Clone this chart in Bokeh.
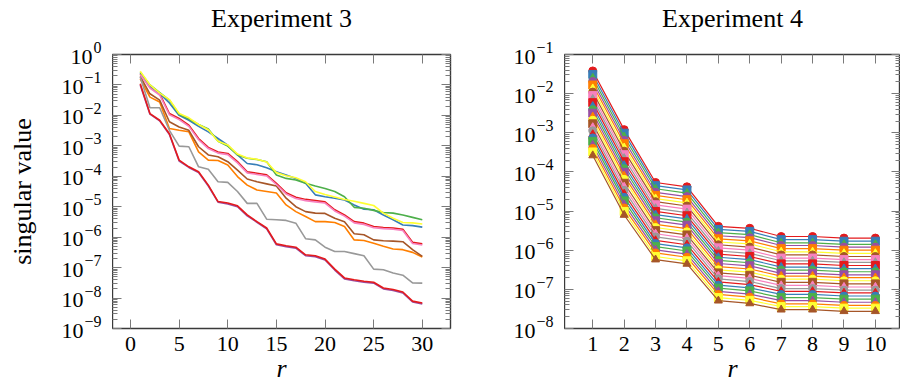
import math
from bokeh.plotting import figure
from bokeh.layouts import row
from bokeh.models import FixedTicker, LinearAxis, LogAxis, CustomJSTickFormatter
from bokeh.core.properties import value
from bokeh.embed import file_html
from bokeh.resources import INLINE

FONT = "Liberation Serif"
SET1 = ["#e41a1c", "#377eb8", "#4daf4a", "#984ea3", "#ff7f00",
        "#ffff33", "#a65628", "#f781bf", "#999999"]

# ---------------- Experiment 3 (log10 of singular values), r = 1..30 ----------------
exp3_r = list(range(1, 31))
exp3_red_a = [-0.63, -1.07, -1.29, -1.94, -2.10, -2.32, -2.76, -3.05, -3.20, -3.25,
              -3.52, -3.85, -3.90, -3.95, -4.23, -4.54, -4.69, -4.76, -4.80, -4.84,
              -5.10, -5.27, -5.49, -5.54, -5.65, -5.68, -5.70, -5.74, -6.17, -6.22]
exp3_blue = [-0.60, -1.05, -1.29, -1.59, -2.00, -2.16, -2.36, -2.54, -2.76, -2.98,
             -3.30, -3.58, -3.62, -3.72, -3.85, -3.96, -4.07, -4.23, -4.61, -4.67,
             -4.72, -4.78, -4.94, -5.08, -5.10, -5.27, -5.43, -5.60, -5.62, -5.67]
exp3_green = [-0.58, -1.00, -1.25, -1.50, -1.96, -2.12, -2.30, -2.45, -2.85, -3.01,
              -3.30, -3.41, -3.45, -3.52, -3.96, -4.07, -4.12, -4.23, -4.32, -4.40,
              -4.50, -4.67, -5.02, -5.05, -5.12, -5.19, -5.21, -5.27, -5.35, -5.43]
exp3_purple = [-1.00, -1.96, -2.18, -2.63, -3.50, -3.71, -3.88, -4.32, -4.85, -4.91,
               -5.00, -5.30, -5.51, -5.73, -6.25, -6.31, -6.36, -6.61, -6.64, -6.75,
               -7.08, -7.37, -7.43, -7.48, -7.51, -7.70, -7.75, -7.83, -8.13, -8.19]
exp3_orange = [-0.80, -1.40, -1.56, -2.43, -2.49, -2.54, -3.20, -3.47, -3.48, -3.63,
               -4.01, -4.29, -4.45, -4.50, -4.55, -4.94, -5.16, -5.32, -5.49, -5.49,
               -5.52, -5.65, -6.09, -6.11, -6.20, -6.30, -6.39, -6.41, -6.50, -6.65]
exp3_yellow = [-0.55, -1.00, -1.27, -1.48, -1.94, -2.08, -2.30, -2.47, -2.85, -2.97,
               -3.27, -3.40, -3.44, -3.53, -3.88, -3.98, -4.05, -4.18, -4.50, -4.60,
               -4.68, -4.76, -4.82, -4.89, -4.96, -5.21, -5.38, -5.52, -5.53, -5.57]
exp3_brown = [-0.72, -1.29, -1.50, -2.21, -2.38, -2.49, -3.03, -3.30, -3.36, -3.52,
              -3.80, -4.09, -4.18, -4.25, -4.32, -4.72, -5.00, -5.16, -5.21, -5.22,
              -5.38, -5.49, -5.89, -5.92, -6.09, -6.12, -6.13, -6.15, -6.41, -6.63]
exp3_pink = [-0.66, -1.10, -1.33, -1.98, -2.14, -2.36, -2.80, -3.09, -3.24, -3.29,
             -3.56, -3.89, -3.94, -3.99, -4.27, -4.58, -4.73, -4.80, -4.84, -4.88,
             -5.14, -5.31, -5.53, -5.58, -5.69, -5.72, -5.74, -5.78, -6.21, -6.26]
exp3_gray = [-0.74, -1.75, -1.75, -2.49, -3.01, -3.03, -3.69, -3.77, -4.18, -4.20,
             -4.50, -4.89, -4.89, -5.41, -5.43, -5.45, -5.54, -6.05, -6.09, -6.33,
             -6.47, -6.47, -6.54, -6.61, -7.05, -7.07, -7.18, -7.25, -7.50, -7.51]
exp3_red_b = [-0.96, -1.94, -2.16, -2.60, -3.47, -3.69, -3.85, -4.29, -4.83, -4.88,
              -4.97, -5.27, -5.49, -5.70, -6.22, -6.28, -6.33, -6.58, -6.61, -6.72,
              -7.05, -7.34, -7.40, -7.45, -7.48, -7.67, -7.72, -7.80, -8.10, -8.16]
exp3_series = [exp3_red_a, exp3_blue, exp3_green, exp3_purple, exp3_orange,
               exp3_yellow, exp3_brown, exp3_pink, exp3_gray, exp3_red_b]

# ---------------- Experiment 4 (log10 of singular values), r = 1..10 ----------------
exp4_r = list(range(1, 11))
exp4_s01 = [-1.42, -2.92, -4.27, -4.38, -5.39, -5.44, -5.65, -5.65, -5.69, -5.69]
exp4_s02 = [-1.51, -3.01, -4.35, -4.46, -5.47, -5.52, -5.73, -5.73, -5.77, -5.77]
exp4_s03 = [-1.60, -3.10, -4.43, -4.54, -5.55, -5.60, -5.81, -5.81, -5.85, -5.85]
exp4_s04 = [-1.69, -3.19, -4.52, -4.63, -5.63, -5.68, -5.88, -5.88, -5.92, -5.92]
exp4_s05 = [-1.78, -3.28, -4.60, -4.71, -5.71, -5.76, -5.96, -5.96, -6.00, -6.00]
exp4_s06 = [-1.87, -3.38, -4.68, -4.79, -5.79, -5.84, -6.04, -6.04, -6.08, -6.08]
exp4_s07 = [-1.96, -3.47, -4.76, -4.87, -5.86, -5.92, -6.12, -6.12, -6.16, -6.16]
exp4_s08 = [-2.05, -3.56, -4.84, -4.95, -5.94, -6.00, -6.20, -6.20, -6.24, -6.24]
exp4_s09 = [-2.14, -3.65, -4.93, -5.04, -6.02, -6.08, -6.27, -6.27, -6.31, -6.31]
exp4_s10 = [-2.23, -3.74, -5.01, -5.12, -6.10, -6.16, -6.35, -6.35, -6.39, -6.39]
exp4_s11 = [-2.32, -3.83, -5.09, -5.20, -6.18, -6.24, -6.43, -6.43, -6.47, -6.47]
exp4_s12 = [-2.41, -3.92, -5.17, -5.28, -6.26, -6.32, -6.51, -6.51, -6.55, -6.55]
exp4_s13 = [-2.50, -4.01, -5.25, -5.36, -6.34, -6.40, -6.59, -6.59, -6.63, -6.63]
exp4_s14 = [-2.59, -4.10, -5.34, -5.45, -6.42, -6.48, -6.66, -6.66, -6.70, -6.70]
exp4_s15 = [-2.68, -4.19, -5.42, -5.53, -6.50, -6.56, -6.74, -6.74, -6.78, -6.78]
exp4_s16 = [-2.77, -4.29, -5.50, -5.61, -6.58, -6.64, -6.82, -6.82, -6.86, -6.86]
exp4_s17 = [-2.86, -4.38, -5.58, -5.69, -6.65, -6.72, -6.90, -6.90, -6.94, -6.94]
exp4_s18 = [-2.95, -4.47, -5.66, -5.77, -6.73, -6.80, -6.98, -6.98, -7.02, -7.02]
exp4_s19 = [-3.04, -4.56, -5.75, -5.86, -6.81, -6.88, -7.05, -7.05, -7.09, -7.09]
exp4_s20 = [-3.13, -4.65, -5.83, -5.94, -6.89, -6.96, -7.13, -7.13, -7.17, -7.17]
exp4_s21 = [-3.22, -4.74, -5.91, -6.02, -6.97, -7.04, -7.21, -7.21, -7.25, -7.25]
exp4_s22 = [-3.31, -4.83, -5.99, -6.10, -7.05, -7.12, -7.29, -7.29, -7.33, -7.33]
exp4_s23 = [-3.40, -4.92, -6.07, -6.18, -7.13, -7.20, -7.37, -7.37, -7.41, -7.41]
exp4_s24 = [-3.49, -5.01, -6.16, -6.27, -7.21, -7.28, -7.44, -7.44, -7.48, -7.48]
exp4_s25 = [-3.58, -5.10, -6.24, -6.35, -7.29, -7.36, -7.52, -7.52, -7.56, -7.56]
exp4_series = [exp4_s01, exp4_s02, exp4_s03, exp4_s04, exp4_s05, exp4_s06, exp4_s07,
               exp4_s08, exp4_s09, exp4_s10, exp4_s11, exp4_s12, exp4_s13, exp4_s14,
               exp4_s15, exp4_s16, exp4_s17, exp4_s18, exp4_s19, exp4_s20, exp4_s21,
               exp4_s22, exp4_s23, exp4_s24, exp4_s25]
MARKERS = ["circle", "square", "triangle"]

# tick labels
exp3_x_ticks = [0, 5, 10, 15, 20, 25, 30]
exp3_y_exponents = list(range(-9, 1))
exp4_x_ticks = list(range(1, 11))
exp4_y_exponents = list(range(-8, 0))

H = 390
TOP = 54
BOTTOM = 62
TICK = "#7a7a7a"
FRAME = "#3a3a3a"
FS_TICK = "22px"
FS_SUP = "16px"
FS_LABEL = "26px"
EMPTY_JS = "return '';"
MINUS = "\u2212"


def style_axis(ax, ticker, labels, standoff=8):
    ax.ticker = ticker
    ax.major_tick_in = 9
    ax.major_tick_out = 0
    ax.minor_tick_in = 5
    ax.minor_tick_out = 0
    ax.major_tick_line_color = TICK
    ax.minor_tick_line_color = TICK
    ax.major_tick_line_width = 1
    ax.minor_tick_line_width = 1
    ax.axis_line_color = None
    ax.major_label_text_font = FONT
    ax.major_label_text_color = "black"
    if labels:
        ax.major_label_text_font_size = FS_TICK
        ax.major_label_standoff = standoff
    else:
        ax.formatter = CustomJSTickFormatter(code=EMPTY_JS)
        ax.major_label_text_font_size = "1px"
        ax.major_label_standoff = 0
    ax.axis_label_text_font = FONT
    ax.axis_label_text_font_size = FS_LABEL
    ax.axis_label_text_color = "black"
    ax.axis_label_text_font_style = "normal"


def log_ticker(exps):
    majors = [10.0 ** e for e in exps]
    minors = [m * 10.0 ** e for e in exps[:-1] for m in range(2, 10)]
    return FixedTicker(ticks=majors, minor_ticks=minors)


def make_fig(title, width, xr, xticks, yexps, mb_right):
    p = figure(width=width, height=H, x_range=xr,
               y_range=(10.0 ** yexps[0], 10.0 ** yexps[-1]), y_axis_type="log",
               output_backend="svg", toolbar_location=None, title=None,
               min_border_left=0, min_border_right=mb_right,
               min_border_top=TOP, min_border_bottom=BOTTOM)
    p.frame_align = False
    p.grid.visible = False
    p.outline_line_color = FRAME
    p.outline_line_width = 1.4
    p.background_fill_color = "white"
    p.border_fill_color = "white"

    xb = p.below[0]
    style_axis(xb, FixedTicker(ticks=xticks, minor_ticks=[]), True, standoff=8)
    xb.axis_label = "r"
    xb.axis_label_text_font_style = "italic"
    xb.axis_label_standoff = 0

    style_axis(p.left[0], log_ticker(yexps), False)

    xa = LinearAxis()
    style_axis(xa, FixedTicker(ticks=xticks, minor_ticks=[]), False)
    xa.axis_label = title
    xa.axis_label_standoff = 22
    p.add_layout(xa, "above")
    yr_ax = LogAxis()
    style_axis(yr_ax, log_ticker(yexps), False)
    p.add_layout(yr_ax, "right")
    return p


def make_label_fig(width, yexps, ylabel=None):
    # a strip holding the y tick labels "10" + raised exponent, on the same log scale
    ppd = (H - TOP - BOTTOM) / (yexps[-1] - yexps[0])
    lo = yexps[0] - BOTTOM / ppd
    hi = yexps[-1] + TOP / ppd
    q = figure(width=width, height=H, x_range=(0, width),
               y_range=(10.0 ** lo, 10.0 ** hi), y_axis_type="log",
               output_backend="svg", toolbar_location=None, title=None,
               x_axis_location=None, y_axis_location=None,
               min_border_left=0, min_border_right=0,
               min_border_top=0, min_border_bottom=0)
    q.frame_align = False
    q.grid.visible = False
    q.outline_line_color = None
    q.background_fill_color = None
    q.border_fill_color = None
    right = width - 11
    exp_txt = [str(e).replace("-", MINUS) for e in yexps]
    exp_w = [sum(9.0 if c == MINUS else 8.0 for c in t) for t in exp_txt]
    ys = [10.0 ** e for e in yexps]
    q.text(x=[right] * len(ys), y=ys, text=exp_txt, text_font=value(FONT),
           text_font_size=value(FS_SUP), text_color="black", text_align="right",
           text_baseline="middle", y_offset=-7)
    q.text(x=[right - w - 1 for w in exp_w], y=ys, text=["10"] * len(ys),
           text_font=value(FONT), text_font_size=value(FS_TICK), text_color="black",
           text_align="right", text_baseline="middle", y_offset=2)
    if ylabel:
        mid = 10.0 ** ((yexps[0] + yexps[-1]) / 2)
        q.text(x=[22], y=[mid], text=[ylabel], text_font=value(FONT),
               text_font_size=value(FS_LABEL), text_color="black",
               text_align="center", text_baseline="middle", angle=math.pi / 2)
    return q


lab1 = make_label_fig(112, exp3_y_exponents, "singular value")
p1 = make_fig("Experiment 3", 395, (-1.85, 32.9), exp3_x_ticks, exp3_y_exponents, 57)
for i, s in enumerate(exp3_series):
    p1.line(exp3_r, [10.0 ** v for v in s], line_color=SET1[i % 9], line_width=1.6)

lab2 = make_label_fig(57, exp4_y_exponents)
p2 = make_fig("Experiment 4", 336, (0.1, 10.8), exp4_x_ticks, exp4_y_exponents, 0)
for k, s in enumerate(exp4_series):
    col = SET1[k % 9]
    ys = [10.0 ** v for v in s]
    mk = MARKERS[(k % 9 + k // 9) % 3]
    p2.line(exp4_r, ys, line_color=col, line_width=1.2)
    p2.scatter(exp4_r, ys, marker=mk, size=8, fill_color=col, line_color=col)

layout = row(lab1, p1, lab2, p2)
open("out.html", "w").write(file_html(layout, INLINE))
